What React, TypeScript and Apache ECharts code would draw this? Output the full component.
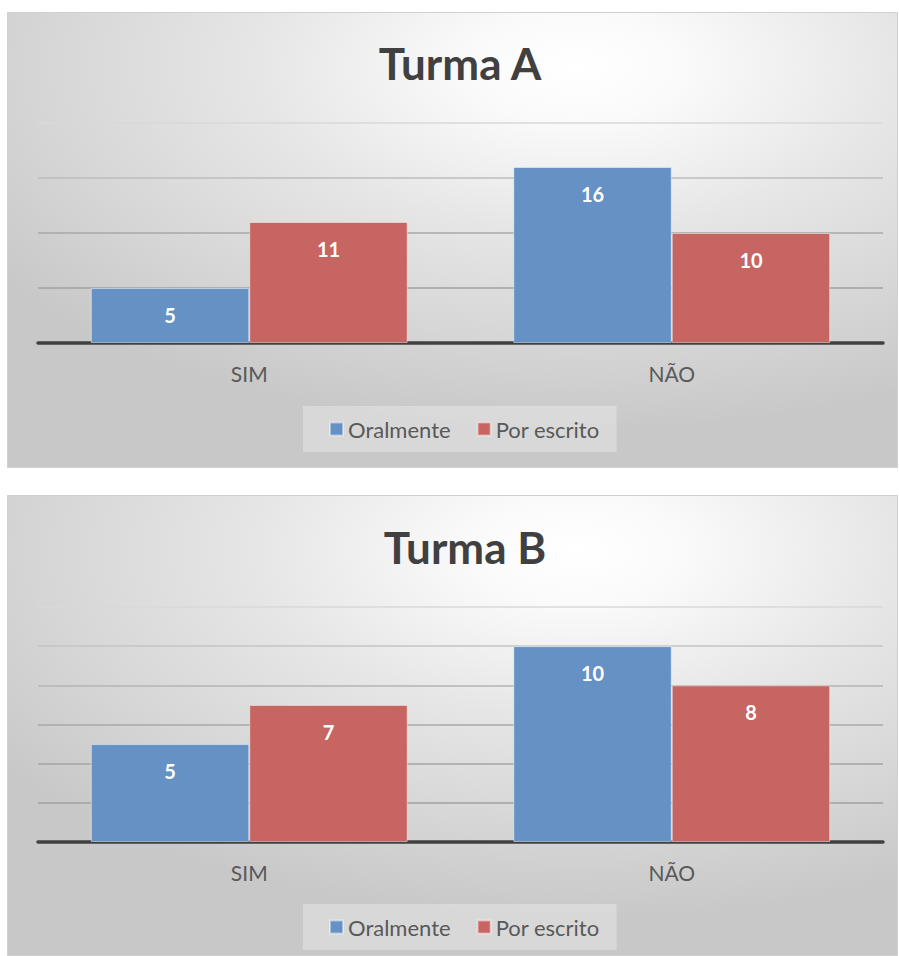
import React, { useEffect, useRef } from 'react';
import * as echarts from 'echarts';

const categories = ['SIM', 'NÃO'];
const seriesNames = ['Oralmente', 'Por escrito'];
const titles = ['Turma A', 'Turma B'];
const turmaAOral = [5, 16];
const turmaAEscrito = [11, 10];
const turmaBOral = [5, 10];
const turmaBEscrito = [7, 8];
const axisA = { min: 0, max: 20, interval: 5 };
const axisB = { min: 0, max: 12, interval: 2 };

const BLUE = '#6591c5';
const RED = '#c76563';
const FONT = 'Lato';

function bgRect(x: number, y: number, w: number, h: number) {
  return {
    type: 'rect',
    z: -100,
    shape: { x, y, width: w, height: h },
    style: {
      fill: {
        type: 'radial',
        x: 0.64,
        y: 0.12,
        r: 0.8,
        colorStops: [
          { offset: 0, color: '#ffffff' },
          { offset: 0.15, color: '#fafafa' },
          { offset: 0.45, color: '#e6e6e6' },
          { offset: 0.75, color: '#d6d6d6' },
          { offset: 1, color: '#c8c8c8' },
        ],
      },
      stroke: '#d0d0d0',
      lineWidth: 1,
    },
  };
}

function titleText(text: string, x: number, y: number) {
  return {
    type: 'text',
    z: 10,
    x,
    y,
    style: {
      text,
      fill: '#404040',
      font: `bold 44px ${FONT}`,
      align: 'center',
      verticalAlign: 'middle',
    },
  };
}

function barSeries(name: string, data: number[], color: string, idx: number) {
  return {
    type: 'bar',
    name,
    data,
    xAxisIndex: idx,
    yAxisIndex: idx,
    barGap: '0%',
    barCategoryGap: '25%',
    itemStyle: { color, borderColor: 'rgba(255,255,255,0.45)', borderWidth: 1 },
    label: {
      show: true,
      position: 'insideTop',
      distance: 17,
      color: '#ffffff',
      fontWeight: 'bold',
      fontSize: 20,
      fontFamily: FONT,
    },
  };
}

function legendAt(top: number) {
  return {
    data: seriesNames,
    left: 303,
    top,
    orient: 'horizontal',
    itemWidth: 13,
    itemHeight: 13,
    itemGap: 26,
    icon: 'rect',
    backgroundColor: 'rgba(255,255,255,0.3)',
    padding: [12, 17, 12, 26],
    textStyle: { fontFamily: FONT, fontSize: 22, color: '#595959' },
  };
}

function xAxisFor(gridIndex: number) {
  return {
    type: 'category',
    gridIndex,
    data: categories,
    axisTick: { show: false },
    axisLine: { show: true, lineStyle: { color: '#404040', width: 3.5 } },
    axisLabel: { fontFamily: FONT, fontSize: 21, color: '#595959', margin: 20 },
  };
}

function yAxisFor(gridIndex: number, cfg: { min: number; max: number; interval: number }, colors: string[]) {
  return {
    type: 'value',
    gridIndex,
    min: cfg.min,
    max: cfg.max,
    interval: cfg.interval,
    axisLabel: { show: false },
    axisLine: { show: false },
    axisTick: { show: false },
    splitLine: { show: true, lineStyle: { color: colors, width: 1.5 } },
  };
}

export default function App() {
  const ref = useRef<HTMLDivElement>(null);
  useEffect(() => {
    if (!ref.current) return;
    const chart = echarts.init(ref.current, undefined, { renderer: 'svg' });
    chart.setOption({
      animation: false,
      backgroundColor: '#ffffff',
      graphic: [
        bgRect(7.5, 12.5, 890, 455),
        bgRect(7.5, 495.5, 890, 460),
        titleText(titles[0], 460, 63),
        titleText(titles[1], 465, 547),
      ],
      grid: [
        { left: 38, right: 16, top: 123, height: 220 },
        { left: 38, right: 16, top: 607, height: 235 },
      ],
      xAxis: [xAxisFor(0), xAxisFor(1)],
      yAxis: [
        yAxisFor(0, axisA, ['#999999', '#a2a2a2', '#a8a8a8', '#bcbcbc', '#d8d8d8']),
        yAxisFor(1, axisB, ['#999999', '#a0a0a0', '#a4a4a4', '#a8a8a8', '#b4b4b4', '#c4c4c4', '#d8d8d8']),
      ],
      legend: [legendAt(406), legendAt(904)],
      series: [
        barSeries(seriesNames[0], turmaAOral, BLUE, 0),
        barSeries(seriesNames[1], turmaAEscrito, RED, 0),
        barSeries(seriesNames[0], turmaBOral, BLUE, 1),
        barSeries(seriesNames[1], turmaBEscrito, RED, 1),
      ],
    });
    return () => chart.dispose();
  }, []);
  return (
    <div
      ref={ref}
      style={{ position: 'absolute', left: 0, top: 0, width: 899, height: 956 }}
    />
  );
}
